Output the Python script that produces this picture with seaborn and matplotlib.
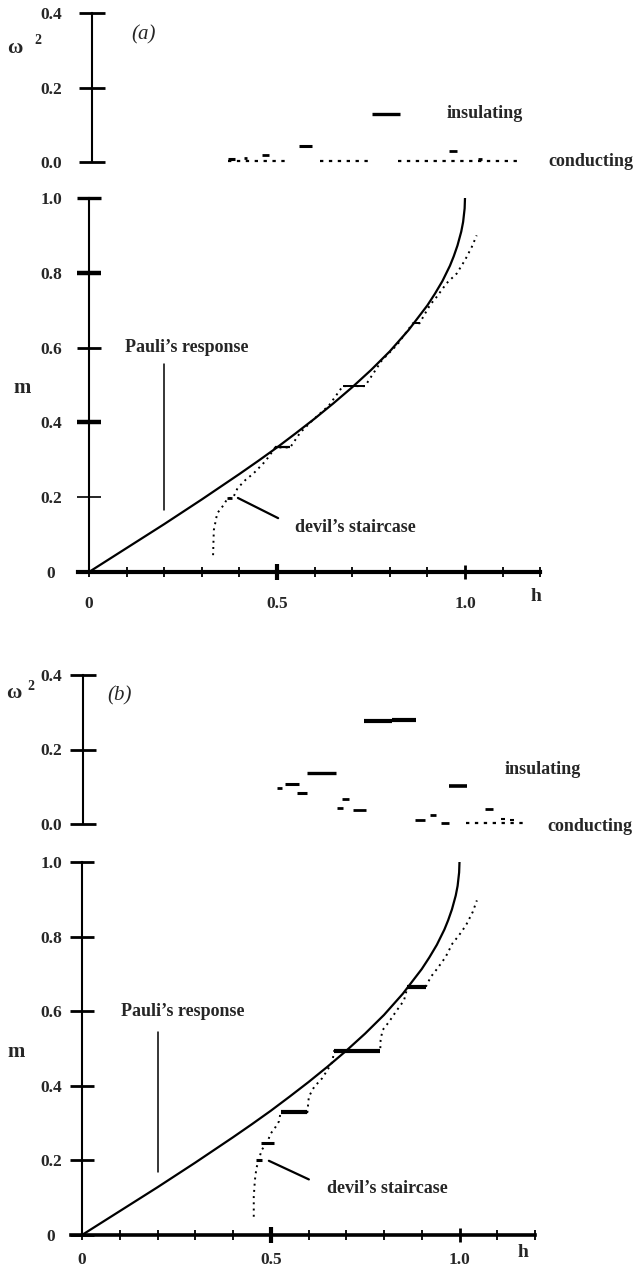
import matplotlib
matplotlib.use("Agg")
import matplotlib.pyplot as plt
import seaborn as sns
import numpy as np
import pandas as pd

# ---------------- data ----------------
pauli_h = [0, 0.05, 0.1, 0.15, 0.2, 0.25, 0.3, 0.35, 0.4, 0.45, 0.5, 0.55, 0.6, 0.65,
           0.7, 0.75, 0.8, 0.85, 0.9, 0.92, 0.94, 0.96, 0.97, 0.98, 0.99, 0.995, 0.999, 1.0]
pauli_m = [0, 0.032, 0.064, 0.096, 0.128, 0.161, 0.194, 0.228, 0.262, 0.297, 0.333, 0.371,
           0.410, 0.451, 0.494, 0.540, 0.590, 0.647, 0.713, 0.744, 0.778, 0.819, 0.844,
           0.873, 0.910, 0.936, 0.972, 1.0]

# panel (a) devil's staircase (dotted) and its plateaus
stair_a_h = [0.330, 0.331, 0.332, 0.341, 0.358, 0.369, 0.383, 0.395, 0.416, 0.438, 0.464,
             0.478, 0.495, 0.535, 0.562, 0.597, 0.638, 0.675, 0.734, 0.779, 0.820, 0.861,
             0.879, 0.907, 0.925, 0.951, 0.978, 1.000, 1.018, 1.031]
stair_a_m = [0.045, 0.080, 0.112, 0.157, 0.179, 0.198, 0.198, 0.224, 0.246, 0.264, 0.291,
             0.308, 0.333, 0.333, 0.373, 0.408, 0.445, 0.497, 0.497, 0.566, 0.608, 0.665,
             0.665, 0.714, 0.736, 0.772, 0.798, 0.834, 0.869, 0.900]
plat_a_h0 = [0.367, 0.495, 0.675, 0.861]
plat_a_h1 = [0.381, 0.535, 0.734, 0.879]
plat_a_m = [0.198, 0.333, 0.497, 0.665]

# panel (a) omega^2 : insulating gaps and conducting (gapless) stretches
gap_a_h0 = [0.370, 0.411, 0.459, 0.559, 0.753, 0.958, 1.034]
gap_a_h1 = [0.388, 0.421, 0.480, 0.592, 0.827, 0.978, 1.044]
gap_a_w = [0.008, 0.010, 0.019, 0.043, 0.130, 0.030, 0.008]
cond_a_h0 = [0.370, 0.614, 0.823]
cond_a_h1 = [0.535, 0.755, 1.138]

# panel (b)
stair_b_h = [0.455, 0.455, 0.458, 0.462, 0.468, 0.476, 0.490, 0.500, 0.513, 0.522, 0.526,
             0.597, 0.601, 0.615, 0.636, 0.650, 0.663, 0.668, 0.790, 0.791, 0.796, 0.813,
             0.831, 0.853, 0.862, 0.910, 0.924, 0.941, 0.963, 0.981, 0.999, 1.017, 1.035,
             1.046]
stair_b_m = [0.049, 0.103, 0.147, 0.179, 0.201, 0.228, 0.247, 0.272, 0.290, 0.305, 0.329,
             0.329, 0.371, 0.397, 0.420, 0.442, 0.464, 0.494, 0.494, 0.522, 0.549, 0.571,
             0.598, 0.629, 0.664, 0.664, 0.692, 0.714, 0.745, 0.781, 0.804, 0.830, 0.866,
             0.897]
plat_b_h0 = [0.460, 0.473, 0.526, 0.668, 0.862]
plat_b_h1 = [0.478, 0.508, 0.597, 0.790, 0.910]
plat_b_m = [0.201, 0.247, 0.329, 0.494, 0.664]

gap_b_h0 = [0.747, 0.820, 0.595, 0.516, 0.538, 0.569, 0.688, 0.676, 0.717, 0.972, 1.068,
            0.883, 0.923, 0.952, 1.110, 1.135]
gap_b_h1 = [0.820, 0.886, 0.672, 0.530, 0.575, 0.597, 0.707, 0.692, 0.751, 1.021, 1.090,
            0.908, 0.938, 0.972, 1.121, 1.144]
gap_b_w = [0.276, 0.279, 0.138, 0.097, 0.108, 0.083, 0.067, 0.043, 0.038, 0.103, 0.041,
           0.012, 0.025, 0.003, 0.013, 0.010]
cond_b_h0 = [1.016]
cond_b_h1 = [1.169]

m_ticks = [0, 0.2, 0.4, 0.6, 0.8, 1.0]
m_labels = ["0", "0.2", "0.4", "0.6", "0.8", "1.0"]
w_ticks = [0, 0.2, 0.4]
w_labels = ["0.0", "0.2", "0.4"]
h_ticks = [0, 0.1, 0.2, 0.3, 0.4, 0.5, 0.6, 0.7, 0.8, 0.9, 1.0, 1.1, 1.2]
h_labels = ["0", "", "", "", "", "0.5", "", "", "", "", "1.0", "", ""]

# ---------------- styling ----------------
sns.set_theme(style="white")
plt.rcParams["font.family"] = ["Liberation Serif", "DejaVu Serif"]
plt.rcParams["font.weight"] = "bold"

W, H = 638, 1275
fig = plt.figure(figsize=(W / 100, H / 100), dpi=100)
PT = 0.72  # points per pixel at dpi 100
FS_TICK = 12.5
FS_TXT = 13


def rect(x0, x1, ytop, ybot):
    return [x0 / W, 1 - ybot / H, (x1 - x0) / W, (ybot - ytop) / H]


def m_panel(ax, stair_h, stair_m, ph0, ph1, pm, plat_lw, ytick_w, bottom_lw, ypad, xpad,
            pauli_xy, pauli_txt, devil_seg, devil_txt, h_xy):
    df = pd.DataFrame({"h": pauli_h, "m": pauli_m})
    sns.lineplot(data=df, x="h", y="m", ax=ax, color="black", lw=1.6,
                 estimator=None, sort=False)
    ds = pd.DataFrame({"h": stair_h, "m": stair_m})
    sns.lineplot(data=ds, x="h", y="m", ax=ax, color="black", lw=1.4,
                 estimator=None, sort=False, linestyle=(0, (1.0, 2.2)))
    for a, b, y, lw in zip(ph0, ph1, pm, plat_lw):
        ax.hlines(y, a, b, color="black", lw=lw)
    ax.set_xlim(-0.03, 1.2)
    ax.set_ylim(0, 1.0)
    ax.set_xlabel("")
    ax.set_ylabel("")
    sns.despine(ax=ax)
    ax.spines["left"].set_position(("data", 0))
    ax.spines["left"].set_linewidth(1.5)
    ax.spines["bottom"].set_linewidth(bottom_lw)
    ax.spines["left"].set_color("black")
    ax.spines["bottom"].set_color("black")
    ax.set_yticks(m_ticks)
    ax.set_yticklabels(m_labels, fontsize=FS_TICK, fontweight="bold", ha="center")
    ax.set_xticks(h_ticks)
    ax.set_xticklabels(h_labels, fontsize=FS_TICK, fontweight="bold")
    ax.tick_params(axis="y", direction="inout", length=24 * PT, width=1.2, pad=ypad,
                   left=True, color="black")
    ax.tick_params(axis="x", direction="inout", length=10 * PT, width=1.3, pad=xpad,
                   bottom=True, color="black")
    for t, w in zip(ax.yaxis.get_major_ticks(), ytick_w):
        t.tick1line.set_markeredgewidth(w)
    for i, t in enumerate(ax.xaxis.get_major_ticks()):
        if i == 5:
            t.tick1line.set_markersize(16 * PT)
            t.tick1line.set_markeredgewidth(3)
        elif i == 10:
            t.tick1line.set_markersize(14 * PT)
            t.tick1line.set_markeredgewidth(2)
    # annotations
    ax.plot([pauli_xy[0], pauli_xy[0]], [pauli_xy[1], pauli_xy[2]], color="black", lw=1.1)
    ax.text(pauli_txt[0], pauli_txt[1], "Pauli’s response", fontsize=FS_TXT,
            fontweight="bold", va="center", ha="left")
    ax.plot([devil_seg[0], devil_seg[2]], [devil_seg[1], devil_seg[3]], color="black", lw=1.6)
    ax.text(devil_txt[0], devil_txt[1], "devil’s staircase", fontsize=FS_TXT,
            fontweight="bold", va="center", ha="left")
    ax.text(h_xy[0], h_xy[1], "h", fontsize=FS_TXT + 1, fontweight="bold", ha="center",
            va="center", clip_on=False)


def w_panel(ax, g0, g1, gw, gap_lw, c0, c1, ins_xy, con_xy, label, spine_x, ypad):
    for a, b, y, lw in zip(g0, g1, gw, gap_lw):
        ax.hlines(y, a, b, color="black", lw=lw, clip_on=False)
    for a, b in zip(c0, c1):
        ax.hlines(0.002, a, b, color="black", lw=1.6, linestyles=(0, (1.5, 2.5)),
                  clip_on=False)
    ax.set_xlim(-0.03, 1.2)
    ax.set_ylim(0, 0.4)
    sns.despine(ax=ax, bottom=True)
    ax.spines["left"].set_position(("data", spine_x))
    ax.spines["left"].set_linewidth(1.5)
    ax.spines["left"].set_color("black")
    ax.set_xticks([])
    ax.set_yticks(w_ticks)
    ax.set_yticklabels(w_labels, fontsize=FS_TICK, fontweight="bold", ha="center")
    ax.tick_params(axis="y", direction="inout", length=26 * PT, width=2.0, pad=ypad,
                   left=True, color="black")
    ax.text(ins_xy[0], ins_xy[1], "insulating", fontsize=FS_TXT, fontweight="bold",
            va="center", ha="left", clip_on=False)
    ax.text(con_xy[0], con_xy[1], "conducting", fontsize=FS_TXT, fontweight="bold",
            va="center", ha="left", clip_on=False)
    ax.text(label[0], label[1], label[2], fontsize=15, fontweight="normal",
            fontstyle="italic", va="center", ha="center")


# ---------------- panel (a) ----------------
h0a, sca = 89, 376
axwa = fig.add_axes(rect(h0a - 0.03 * sca, h0a + 1.2 * sca, 13, 162))
axma = fig.add_axes(rect(h0a - 0.03 * sca, h0a + 1.2 * sca, 198, 572))
w_panel(axwa, gap_a_h0, gap_a_h1, gap_a_w, [2.2, 2, 2, 2.2, 2.4, 2, 2],
        cond_a_h0, cond_a_h1, (0.952, 0.13), (1.221, 0.0), (0.144, 0.341, "(a)"),
        0.008, 20)
m_panel(axma, stair_a_h, stair_a_m, plat_a_h0, plat_a_h1, plat_a_m, [2, 1.6, 1.4, 1.4],
        [1.5, 1.2, 3.2, 2.0, 3.2, 2.4], 3.0, 18.7, 14,
        (0.200, 0.555, 0.166), (0.096, 0.60),
        (0.396, 0.198, 0.503, 0.144), (0.548, 0.12), (1.19, -0.065))

# ---------------- panel (b) ----------------
h0b, scb = 82, 377.5
axwb = fig.add_axes(rect(h0b - 0.03 * scb, h0b + 1.2 * scb, 675, 824))
axmb = fig.add_axes(rect(h0b - 0.03 * scb, h0b + 1.2 * scb, 862, 1235))
w_panel(axwb, gap_b_h0, gap_b_h1, gap_b_w,
        [3, 3, 2.4, 2, 2.2, 2.2, 2, 2, 2, 2.6, 2, 2, 2, 2, 1.5, 1.5],
        cond_b_h0, cond_b_h1, (1.119, 0.146), (1.232, -0.006), (0.10, 0.344, "(b)"),
        0.003, 13.7)
m_panel(axmb, stair_b_h, stair_b_m, plat_b_h0, plat_b_h1, plat_b_m, [2.2, 2.2, 3, 3, 3],
        [2.0, 2.0, 2.0, 2.0, 2.0, 2.0], 2.6, 13.7, 8.5,
        (0.202, 0.545, 0.17), (0.102, 0.599),
        (0.495, 0.199, 0.601, 0.149), (0.649, 0.126), (1.168, -0.046))

# axis name labels (omega^2 and m)
for (xo, yo, xs, ys, xm, ym) in [(15, 48, 38, 41, 22, 388), (14, 693, 31, 686, 16, 1052)]:
    fig.text(xo / W, 1 - yo / H, "ω", fontsize=15, fontweight="bold", ha="center", va="center")
    fig.text(xs / W, 1 - ys / H, "2", fontsize=10, fontweight="bold", ha="center", va="center")
    fig.text(xm / W, 1 - ym / H, "m", fontsize=15, fontweight="bold", ha="center", va="center")

fig.savefig("out.png", dpi=100, facecolor="white")
